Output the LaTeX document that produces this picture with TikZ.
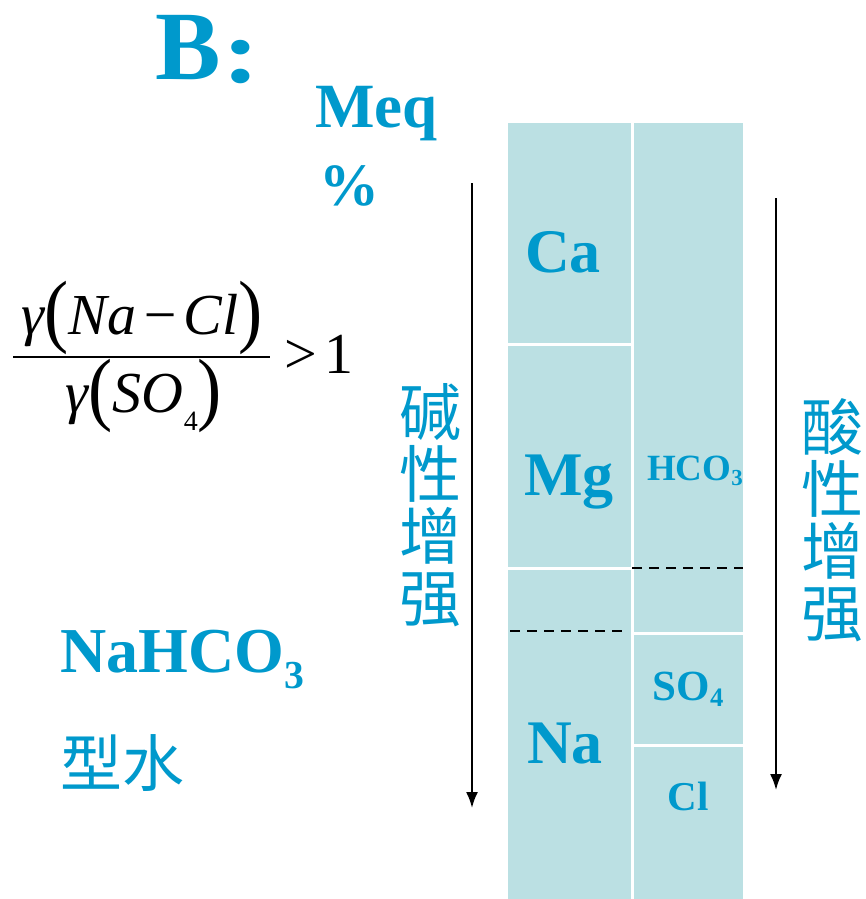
\documentclass[tikz,border=0pt]{standalone}
\usepackage{fontspec}
\usepackage{graphicx}
\setmainfont{Liberation Serif}
\newfontfamily\cjk{Noto Sans CJK SC}
\usetikzlibrary{arrows.meta,positioning}
\definecolor{ionBlue}{RGB}{0,153,204}
\definecolor{ionFill}{RGB}{187,224,227}
\newcommand{\fsz}[1]{\fontsize{#1}{#1}\selectfont}
\newcommand{\low}[2][.25em]{\raisebox{-#1}{\scalebox{.62}{#2}}}
\newcommand{\tallp}[1]{\raisebox{-3pt}{\upshape\scalebox{1.25}[1.4]{#1}}}

\begin{document}
\begin{tikzpicture}[
  x=1pt,y=-1pt,
  cell/.style={
    draw=white,
    line width=3pt,
    fill=ionFill,
    anchor=north west,
    inner sep=0pt
  },
  ion/.style={text=ionBlue,font=\bfseries\fsz{62},anchor=base,inner sep=0pt},
  anion/.style={ion,font=\bfseries\fsz{#1}},
  heading/.style={text=ionBlue,font=\bfseries\fsz{#1},anchor=base west,inner sep=0pt},
  vlabel/.style={text=ionBlue,font=\cjk\fsz{62},align=center,inner sep=0pt},
  formula/.style={font=\fsz{58},anchor=base,inner sep=0pt},
  trend/.style={-{Latex[length=16pt,width=12pt]},line width=2pt},
  split/.style={dash pattern=on 10pt off 7pt,line width=2.5pt}
]
  \useasboundingbox (0,0) rectangle (866,899);

  \node[heading=98] (title) at (155,80) {B};
  \node[heading=90] (colon) at (222,82) {\scalebox{1.25}[1]{:}};
  \node[heading=63] (meq) at (315,127) {Meq};
  \node[heading=60] (pct) at (319,205) {\%};

  \node[formula] (num) at (142,334)
    {\itshape γ\tallp{(}Na\kern4pt−\kern4pt Cl\tallp{)}};
  \node[formula] (den) at (144,412)
    {\itshape γ\tallp{(}SO\raisebox{-18pt}{\upshape\fsz{28}4}\tallp{)}};
  \coordinate (barL) at (13,357);
  \coordinate (barR) at (270,357);
  \draw[line width=2pt] (barL) -- (barR);
  \node[formula,anchor=base west] (ratio) at (284,373) {>\kern8pt1};

  \node[heading=64] (type) at (60,672) {NaHCO\low{3}};
  \node[heading=62,font=\cjk\fsz{62}] (water) at (60,786) {型水};

  \node[cell,minimum width=126pt,minimum height=223pt] (caCell) at (505,120) {};
  \node[cell,minimum width=126pt,minimum height=224pt] (mgCell) at (505,343) {};
  \node[cell,minimum width=126pt,minimum height=332pt] (naCell) at (505,567) {};
  \node[cell,minimum width=112pt,minimum height=512pt] (hcoCell) at (631,120) {};
  \node[cell,minimum width=112pt,minimum height=112pt] (soCell) at (631,632) {};
  \node[cell,minimum width=112pt,minimum height=155pt] (clCell) at (631,744) {};

  \coordinate (naL) at (510,631);
  \coordinate (naR) at (622,631);
  \draw[split] (naL) -- (naR);
  \coordinate (hcoL) at (632,568);
  \coordinate (hcoR) at (743,568);
  \draw[split] (hcoL) -- (hcoR);

  \node[ion] (ca) at (563,272) {Ca};
  \node[ion] (mg) at (569,495) {Mg};
  \node[ion] (na) at (565,763) {Na};
  \node[anion=37] (hco) at (695,480) {HCO\low[.15em]{3}};
  \node[anion=43] (so) at (688,700) {SO\low[.15em]{4}};
  \node[anion=41] (cl) at (688,810) {Cl};

  \coordinate (baseTop) at (472,183);
  \coordinate (baseEnd) at (472,808);
  \draw[trend] (baseTop) -- (baseEnd);
  \coordinate (acidTop) at (776,198);
  \coordinate (acidEnd) at (776,790);
  \draw[trend] (acidTop) -- (acidEnd);

  \node[vlabel] (base) at (430,505) {碱\\性\\增\\强};
  \node[vlabel] (acid) at (832,520) {酸\\性\\增\\强};
\end{tikzpicture}
\end{document}
